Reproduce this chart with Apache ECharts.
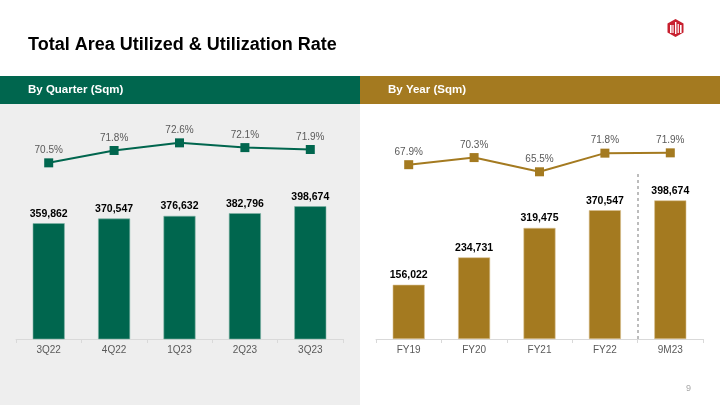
<!DOCTYPE html>
<html>
<head>
<meta charset="utf-8">
<script src="https://cdn.jsdelivr.net/npm/echarts@6/dist/echarts.min.js"></script>
<style>
  html, body { margin: 0; padding: 0; background: #ffffff; }
  #chart { width: 720px; height: 405px; }
</style>
</head>
<body>
<div id="chart"></div>
<script>
// ---- Data ----
const quarterCategories = ['3Q22', '4Q22', '1Q23', '2Q23', '3Q23'];
const quarterArea = [359862, 370547, 376632, 382796, 398674];
const quarterRate = [70.5, 71.8, 72.6, 72.1, 71.9];

const yearCategories = ['FY19', 'FY20', 'FY21', 'FY22', '9M23'];
const yearArea = [156022, 234731, 319475, 370547, 398674];
const yearRate = [67.9, 70.3, 65.5, 71.8, 71.9];

const separatorBefore = '9M23';

const titleText = 'Total Area Utilized & Utilization Rate';
const leftHeader = 'By Quarter (Sqm)';
const rightHeader = 'By Year (Sqm)';
const pageNumber = '9';

// ---- Style ----
const GREEN = '#00664E';
const GOLD = '#A47A20';
const FONT = 'Liberation Sans, Arial, sans-serif';

const chart = echarts.init(document.getElementById('chart'));

function fmtNum(v) { return v.toLocaleString('en-US'); }

const catAxisBase = {
  type: 'category',
  axisLine: { show: true, lineStyle: { color: '#D9D9D9', width: 1 } },
  axisTick: { show: true, length: 4, lineStyle: { color: '#D9D9D9' } },
  axisLabel: { color: '#595959', fontSize: 10, fontFamily: FONT, margin: 6 },
  splitLine: { show: false }
};

function hiddenValueAxis(gridIndex, min, max) {
  return {
    type: 'value', gridIndex, min, max,
    show: false, splitLine: { show: false }
  };
}

// separator sits on the boundary before the chosen category (category i centred at i)
const separatorX = yearCategories.indexOf(separatorBefore) - 0.5;

const option = {
  animation: false,
  backgroundColor: '#ffffff',
  graphic: [
    { type: 'rect', left: 0, top: 104, shape: { width: 360, height: 301 }, style: { fill: '#EEEEEE' }, z: -10 },
    { type: 'rect', left: 0, top: 76, shape: { width: 360, height: 28 }, style: { fill: GREEN }, z: -5 },
    { type: 'rect', left: 360, top: 76, shape: { width: 360, height: 28 }, style: { fill: GOLD }, z: -5 },
    { type: 'text', left: 28, top: 84, style: { text: leftHeader, fill: '#ffffff', font: 'bold 11.5px ' + FONT } },
    { type: 'text', left: 388, top: 84, style: { text: rightHeader, fill: '#ffffff', font: 'bold 11.5px ' + FONT } },
    { type: 'text', left: 28, top: 36, style: { text: titleText, fill: '#000000', font: 'bold 18px ' + FONT } },
    { type: 'text', left: 686, top: 384, style: { text: pageNumber, fill: '#A6A6A6', font: '9px ' + FONT } },
    // logo
    { type: 'polygon', shape: { points: [[675.5, 19], [683.5, 23.5], [683.5, 32.5], [675.5, 37], [667.5, 32.5], [667.5, 23.5]] }, style: { fill: '#C8202F' } },
    { type: 'rect', shape: { x: 670, y: 25, width: 1.6, height: 8 }, style: { fill: '#ffffff' } },
    { type: 'rect', shape: { x: 672.4, y: 25, width: 1.2, height: 8 }, style: { fill: '#ffffff' } },
    { type: 'rect', shape: { x: 675, y: 22, width: 1.4, height: 12 }, style: { fill: '#ffffff' } },
    { type: 'rect', shape: { x: 677.6, y: 24, width: 1.2, height: 9 }, style: { fill: '#ffffff' } },
    { type: 'rect', shape: { x: 680, y: 25, width: 1.6, height: 8 }, style: { fill: '#ffffff' } }
  ],
  grid: [
    { left: 16, right: 377, top: 120, bottom: 66 },
    { left: 376, right: 17, top: 120, bottom: 66 },
    { left: 376, right: 17, top: 172, bottom: 66 }
  ],
  xAxis: [
    Object.assign({}, catAxisBase, { gridIndex: 0, data: quarterCategories }),
    Object.assign({}, catAxisBase, { gridIndex: 1, data: yearCategories }),
    { type: 'value', gridIndex: 2, min: -0.5, max: yearCategories.length - 0.5, show: false, splitLine: { show: false } }
  ],
  yAxis: [
    hiddenValueAxis(0, 95000, 596000),
    hiddenValueAxis(0, 52, 75),
    hiddenValueAxis(1, 0, 630000),
    hiddenValueAxis(1, 9, 83),
    hiddenValueAxis(2, 0, 1)
  ],
  series: [
    {
      type: 'bar', xAxisIndex: 0, yAxisIndex: 0, data: quarterArea,
      barWidth: 32,
      itemStyle: { color: GREEN, borderColor: '#7FB3A6', borderWidth: 0.6 },
      label: { show: true, position: 'top', distance: 4, color: '#000000', fontSize: 10.5, fontWeight: 'bold', fontFamily: FONT, formatter: p => fmtNum(p.value) }
    },
    {
      type: 'line', xAxisIndex: 0, yAxisIndex: 1, data: quarterRate,
      symbol: 'rect', symbolSize: 9, z: 5,
      lineStyle: { color: GREEN, width: 2 },
      itemStyle: { color: GREEN },
      label: { show: true, position: 'top', distance: 3, color: '#595959', fontSize: 10, fontFamily: FONT, formatter: p => p.value.toFixed(1) + '%' }
    },
    {
      type: 'bar', xAxisIndex: 1, yAxisIndex: 2, data: yearArea,
      barWidth: 32,
      itemStyle: { color: GOLD, borderColor: '#D8C08E', borderWidth: 0.6 },
      label: { show: true, position: 'top', distance: 4, color: '#000000', fontSize: 10.5, fontWeight: 'bold', fontFamily: FONT, formatter: p => fmtNum(p.value) }
    },
    {
      type: 'line', xAxisIndex: 1, yAxisIndex: 3, data: yearRate,
      symbol: 'rect', symbolSize: 9, z: 5,
      lineStyle: { color: GOLD, width: 2 },
      itemStyle: { color: GOLD },
      label: { show: true, position: 'top', distance: 3, color: '#595959', fontSize: 10, fontFamily: FONT, formatter: p => p.value.toFixed(1) + '%' }
    },
    {
      type: 'line', xAxisIndex: 2, yAxisIndex: 4, data: [],
      silent: true,
      markLine: {
        silent: true, symbol: ['none', 'none'],
        label: { show: false },
        lineStyle: { color: '#A6A6A6', width: 1.5, type: [3, 3] },
        data: [{ xAxis: separatorX }]
      }
    }
  ]
};

chart.setOption(option);
</script>
</body>
</html>
